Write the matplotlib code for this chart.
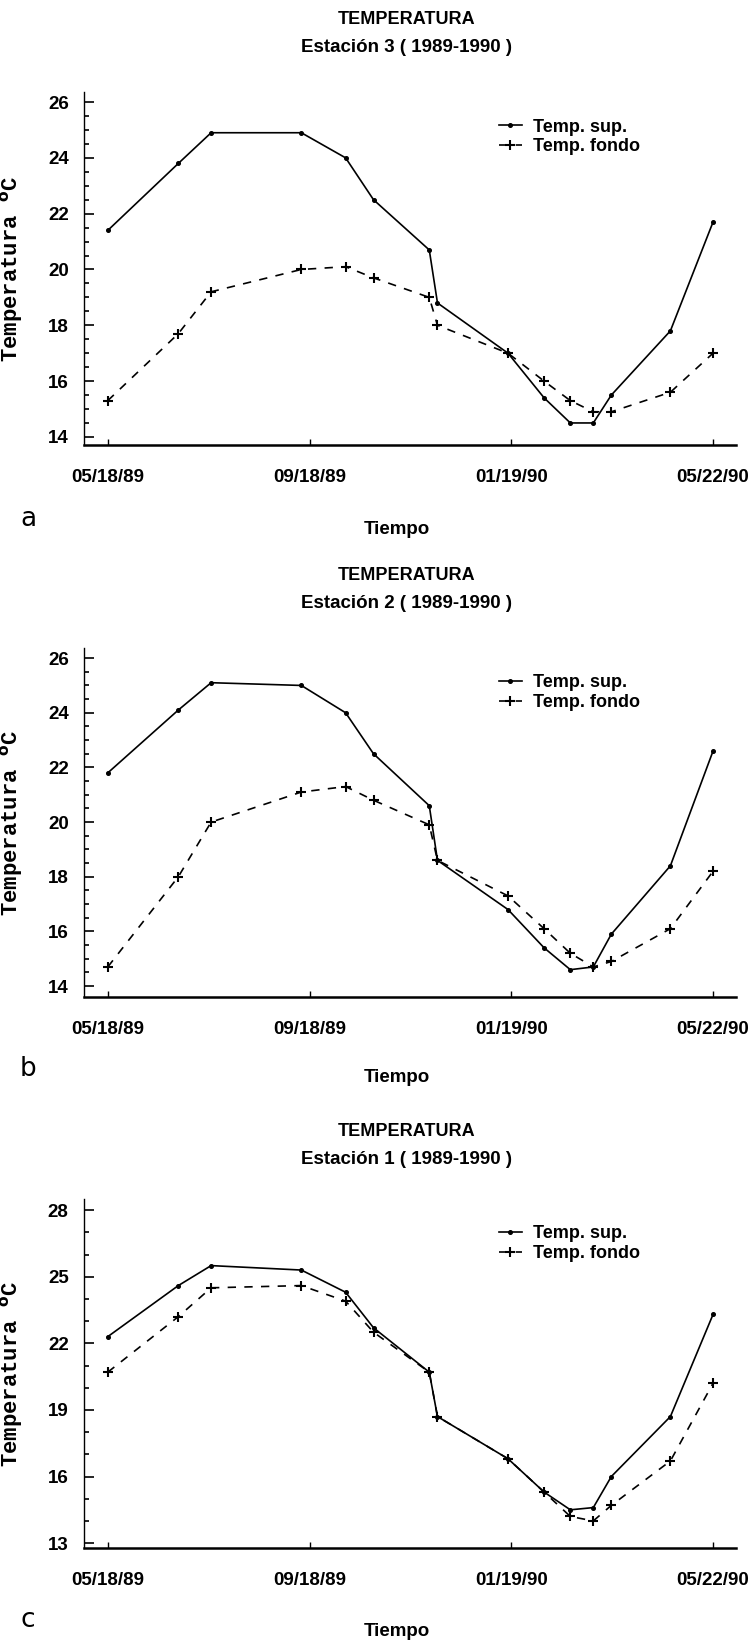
import numpy as np
import matplotlib
matplotlib.use('Agg')
import matplotlib.pyplot as plt
import matplotlib.dates as mdates
import matplotlib.ticker as ticker

# sampling dates (same for every station)
fechas = ['1989-05-18', '1989-06-30', '1989-07-20', '1989-09-13', '1989-10-10',
          '1989-10-27', '1989-11-30', '1989-12-05', '1990-01-17', '1990-02-08',
          '1990-02-24', '1990-03-10', '1990-03-21', '1990-04-26', '1990-05-22']

# Estacion 3
e3_sup = [21.4, 23.8, 24.9, 24.9, 24.0, 22.5, 20.7, 18.8, 17.0, 15.4, 14.5, 14.5, 15.5, 17.8, 21.7]
e3_fondo = [15.3, 17.7, 19.2, 20.0, 20.1, 19.7, 19.0, 18.0, 17.0, 16.0, 15.3, 14.9, 14.9, 15.6, 17.0]

# Estacion 2
e2_sup = [21.8, 24.1, 25.1, 25.0, 24.0, 22.5, 20.6, 18.6, 16.8, 15.4, 14.6, 14.7, 15.9, 18.4, 22.6]
e2_fondo = [14.7, 18.0, 20.0, 21.1, 21.3, 20.8, 19.9, 18.6, 17.3, 16.1, 15.2, 14.7, 14.9, 16.1, 18.2]

# Estacion 1
e1_sup = [22.3, 24.6, 25.5, 25.3, 24.3, 22.7, 20.7, 18.7, 16.8, 15.3, 14.5, 14.6, 16.0, 18.7, 23.3]
e1_fondo = [20.7, 23.2, 24.5, 24.6, 23.9, 22.5, 20.7, 18.7, 16.8, 15.3, 14.2, 14.0, 14.7, 16.7, 20.2]

tick_fechas = ['1989-05-18', '1989-09-18', '1990-01-19', '1990-05-22']
tick_labels = ['05/18/89', '09/18/89', '01/19/90', '05/22/90']

plt.rcParams['font.family'] = ['Liberation Sans', 'DejaVu Sans']
plt.rcParams['font.weight'] = 'bold'

W, H = 755, 1646
fig = plt.figure(figsize=(W / 100, H / 100), dpi=100)

x = mdates.datestr2num(fechas)
x_ticks = mdates.datestr2num(tick_fechas)


def panel(top_px, bottom_px, sup, fondo, ylim, yticks, yminor, estacion, letra,
          title_y, tiempo_y, letra_y):
    ax = fig.add_axes([84 / W, 1 - bottom_px / H, 652 / W, (bottom_px - top_px) / H])
    ax.plot(x, sup, color='black', lw=1.2, marker='o', ms=2.6, label='Temp. sup.')
    ax.plot(x, fondo, color='black', lw=1.2, ls=(0, (5, 5)), marker='+', ms=6.5,
            mew=1.5, label='Temp. fondo')
    ax.set_xlim(x[0] - 14.5, x[0] + 383)
    ax.set_ylim(*ylim)
    for s in ['top', 'right']:
        ax.spines[s].set_visible(False)
    ax.spines['left'].set_linewidth(1.0)
    ax.spines['bottom'].set_linewidth(1.8)
    ax.set_xticks(x_ticks)
    ax.set_xticklabels(tick_labels)
    ax.yaxis.set_major_locator(ticker.FixedLocator(yticks))
    ax.yaxis.set_minor_locator(ticker.FixedLocator(yminor))
    ax.tick_params(axis='y', which='major', direction='in', length=7, width=1.2,
                   pad=11, labelsize=13.5)
    ax.tick_params(axis='y', which='minor', direction='in', length=3.5, width=1.2)
    ax.tick_params(axis='x', direction='in', length=4, width=1.0, pad=17, labelsize=13.5)
    ax.set_ylabel('Temperatura $^{\\mathrm{o}}$C', fontsize=16, family='Liberation Mono',
                  fontweight='bold')
    ax.yaxis.set_label_coords(-0.09, 0.5)
    ax.legend(loc='upper left', bbox_to_anchor=(0.625, 0.945), frameon=False,
              fontsize=13, handlelength=1.3, handletextpad=0.6, labelspacing=0.15,
              borderaxespad=0)
    fig.text(407 / W, 1 - title_y / H, 'TEMPERATURA', ha='center', va='center', fontsize=13)
    fig.text(407 / W, 1 - (title_y + 28) / H, 'Estación ' + estacion + ' ( 1989-1990 )',
             ha='center', va='center', fontsize=13.5)
    fig.text(397 / W, 1 - tiempo_y / H, 'Tiempo', ha='center', va='center', fontsize=13.5)
    fig.text(28 / W, 1 - letra_y / H, letra, ha='center', va='center', fontsize=19,
             family='DejaVu Sans', fontweight='normal')
    return ax


panel(92, 445, e3_sup, e3_fondo, (13.71, 26.36), np.arange(14, 27, 2),
      np.arange(14, 26.1, 0.5), '3', 'a', 19, 530, 519)
panel(648, 997, e2_sup, e2_fondo, (13.6, 26.37), np.arange(14, 27, 2),
      np.arange(14, 26.1, 0.5), '2', 'b', 575, 1078, 1069)
panel(1199, 1548, e1_sup, e1_fondo, (12.78, 28.5), np.arange(13, 29, 3),
      np.arange(13, 28.1, 1), '1', 'c', 1131, 1632, 1620)

plt.savefig('out.png', dpi=100)
